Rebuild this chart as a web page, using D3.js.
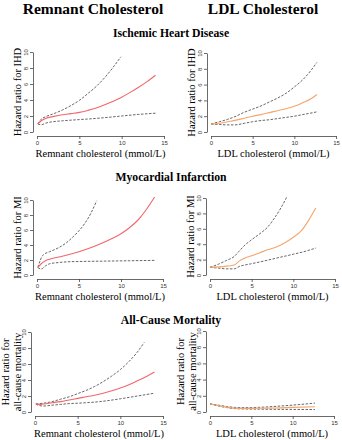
<html>
<head>
<style>
body {
  margin: 0;
  background-color: white;
}
.axis path, .axis line {
  stroke: #444;
  stroke-width: 0.8;
}
.axis text {
  fill: #333;
  font-family: "Liberation Sans", sans-serif;
  font-size: 6px;
}
.label {
  font-family: "Liberation Serif", serif;
  fill: black;
}
</style>
<script src="https://d3js.org/d3.v7.min.js"></script>
</head>
<body>
<svg id="chart" width="342" height="440"></svg>
<script>

// tick values
var xTicks = [0, 5, 10, 15];
var yTicks = [0, 2, 4, 6, 8, 10];

// column and row titles
var columns = ["Remnant Cholesterol", "LDL Cholesterol"];
var rows = ["Ischemic Heart Disease", "Myocardial Infarction", "All-Cause Mortality"];

// Remnant cholesterol, IHD
var remIhdFit = [[0.1,1.0],[0.5,1.4],[1,1.7],[2,1.95],[3,2.15],[4,2.3],[5,2.45],[6,2.7],[7,3.0],[8,3.4],[9,3.85],[10,4.35],[11,4.95],[12,5.6],[13,6.3],[14,7.1]];
var remIhdUp = [[0.1,1.0],[0.5,1.6],[1,1.9],[2,2.3],[3,2.75],[4,3.3],[5,3.95],[6,4.8],[7,5.7],[8,6.8],[9,8.1],[9.9,9.4]];
var remIhdLo = [[0.1,1.0],[0.5,0.9],[1,1.1],[2,1.3],[3,1.4],[5,1.55],[7,1.7],[10,2.0],[12,2.2],[14,2.35]];

// LDL cholesterol, IHD
var ldlIhdFit = [[0,1.0],[1,1.1],[2,1.3],[3,1.5],[4,1.75],[5,2.0],[6,2.2],[7,2.45],[8,2.7],[9,2.95],[10,3.25],[11,3.7],[12,4.2],[12.7,4.75]];
var ldlIhdUp = [[0,1.0],[1,1.3],[2,1.6],[3,2.0],[4,2.5],[5,2.9],[6,3.3],[7,3.8],[8,4.3],[9,4.9],[10,5.7],[11,6.6],[12,7.8],[12.7,8.8]];
var ldlIhdLo = [[0,1.0],[1,0.95],[2,0.9],[2.8,0.9],[4,1.1],[5,1.3],[6,1.45],[7,1.55],[8,1.7],[9,1.85],[10,2.0],[11,2.2],[12,2.4],[12.7,2.55]];

// Remnant cholesterol, MI
var remMiFit = [[0.1,1.0],[0.5,1.5],[1,1.9],[1.5,2.1],[3,2.5],[5,3.1],[7,3.9],[9,4.9],[10,5.5],[11,6.3],[12,7.3],[13,8.7],[14,10.4]];
var remMiUp = [[0.1,1.0],[0.4,2.0],[0.75,2.7],[1.5,3.1],[2.5,3.6],[3.5,4.3],[4.3,5.1],[5,5.9],[5.7,6.9],[6.4,8.2],[7.1,9.9]];
var remMiLo = [[0.1,1.0],[0.5,0.8],[1,1.2],[1.5,1.5],[2.5,1.65],[3.5,1.75],[5,1.8],[8,1.85],[11,1.9],[14,1.95]];

// LDL cholesterol, MI
var ldlMiFit = [[0,1.0],[1,1.05],[2,1.15],[2.9,1.3],[3.5,1.8],[4.2,2.2],[5,2.5],[6,2.9],[7,3.3],[8.1,3.7],[9,4.2],[10,4.9],[11,5.8],[12,7.4],[12.7,8.7]];
var ldlMiUp = [[0,1.0],[1,1.4],[2,1.9],[2.9,2.4],[3.5,3.1],[4.2,3.9],[4.9,4.5],[5.9,5.3],[6.9,6.2],[7.8,7.5],[8.5,8.7],[9.2,10.1]];
var ldlMiLo = [[0,1.0],[1,0.9],[2,0.8],[2.9,0.8],[3.5,1.1],[4.9,1.45],[6,1.7],[8,2.2],[10,2.7],[11.5,3.1],[12.7,3.5]];

// Remnant cholesterol, all-cause mortality
var remAcmFit = [[0.1,1.0],[0.5,0.95],[1,1.0],[2,1.15],[3,1.3],[4,1.5],[5,1.7],[6,1.9],[7,2.1],[8,2.35],[9,2.65],[10,3.0],[11,3.4],[12,3.9],[13,4.4],[14,5.0]];
var remAcmUp = [[0.1,1.0],[1,1.1],[2,1.3],[3,1.6],[4,1.9],[5,2.3],[6,2.7],[7,3.2],[8,3.8],[9,4.5],[10,5.3],[11,6.3],[12,7.5],[12.8,8.7]];
var remAcmLo = [[0.1,1.0],[0.5,0.8],[1,0.75],[2,0.85],[3,0.95],[4,1.05],[5,1.1],[7.6,1.3],[10,1.65],[12,2.0],[14,2.35]];

// LDL cholesterol, all-cause mortality
var ldlAcmFit = [[0,1.0],[1,0.8],[2,0.6],[3,0.48],[4,0.45],[5,0.45],[6,0.47],[8,0.5],[10,0.57],[12.7,0.65]];
var ldlAcmUp = [[0,1.0],[1,0.85],[2,0.68],[3,0.57],[4,0.54],[5,0.55],[6,0.58],[8,0.7],[10,0.85],[12.7,1.1]];
var ldlAcmLo = [[0,1.0],[1,0.75],[2,0.55],[3,0.42],[4,0.38],[6,0.35],[8,0.33],[10,0.32],[12.7,0.3]];

var red = "#f2666a", orange = "#f5a46a";

var panels = [
  {x0:37, x1:164, y0:132, y1:52, xl:"Remnant cholesterol (mmol/L)", yl:["Hazard ratio for IHD"], fit:remIhdFit, up:remIhdUp, lo:remIhdLo, col:red},
  {x0:211, x1:336, y0:132, y1:53, xl:"LDL cholesterol (mmol/L)", yl:["Hazard ratio for IHD"], fit:ldlIhdFit, up:ldlIhdUp, lo:ldlIhdLo, col:orange},
  {x0:37, x1:163, y0:275, y1:200, xl:"Remnant cholesterol (mmol/L)", yl:["Hazard ratio for MI"], fit:remMiFit, up:remMiUp, lo:remMiLo, col:red},
  {x0:210, x1:335, y0:275, y1:198, xl:"LDL cholesterol (mmol/L)", yl:["Hazard ratio for MI"], fit:ldlMiFit, up:ldlMiUp, lo:ldlMiLo, col:orange},
  {x0:35, x1:163, y0:412, y1:332, xl:"Remnant cholesterol (mmol/L)", yl:["Hazard ratio for","all-cause mortality"], fit:remAcmFit, up:remAcmUp, lo:remAcmLo, col:red},
  {x0:210, x1:334, y0:412, y1:331, xl:"LDL cholesterol (mmol/L)", yl:["Hazard ratio for","all-cause mortality"], fit:ldlAcmFit, up:ldlAcmUp, lo:ldlAcmLo, col:orange}
];

var svg = d3.select("#chart");

// headers
svg.append("text").attr("class","label").attr("x",93).attr("y",14)
  .attr("text-anchor","middle").style("font-weight","bold").style("font-size","15.5px").text(columns[0]);
svg.append("text").attr("class","label").attr("x",263).attr("y",14)
  .attr("text-anchor","middle").style("font-weight","bold").style("font-size","15.5px").text(columns[1]);

var rowY = [37, 181, 324];
rows.forEach(function(r, i) {
  svg.append("text").attr("class","label").attr("x",171).attr("y",rowY[i])
    .attr("text-anchor","middle").style("font-weight","bold").style("font-size","11.7px").text(r);
});

panels.forEach(function(p) {
  var x = d3.scaleLinear().domain([0,15]).range([p.x0, p.x1]);
  var y = d3.scaleLinear().domain([0,10]).range([p.y0, p.y1]);

  var line = d3.line()
    .x(function(d) {return x(d[0]);})
    .y(function(d) {return y(d[1]);})
    .curve(d3.curveMonotoneX);

  svg.append("g").attr("class","axis")
    .attr("transform","translate(0," + (p.y0 + 4) + ")")
    .call(d3.axisBottom(x).tickValues(xTicks).tickSize(3).tickSizeOuter(0).tickPadding(2));

  var ya = svg.append("g").attr("class","axis")
    .attr("transform","translate(" + (p.x0 - 4) + ",0)")
    .call(d3.axisLeft(y).tickValues(yTicks).tickSize(3).tickSizeOuter(0));
  ya.selectAll(".tick text")
    .attr("x", null).attr("dy", null)
    .attr("text-anchor","middle")
    .attr("transform","translate(-5.5,0) rotate(-90)");

  // x label
  svg.append("text").attr("class","label")
    .attr("x", (p.x0 + p.x1) / 2).attr("y", p.y0 + 24.5)
    .attr("text-anchor","middle").style("font-size","10.5px").text(p.xl);

  // y label
  var cy = (p.y0 + p.y1) / 2;
  p.yl.forEach(function(t, i) {
    var px = p.yl.length == 1 ? p.x0 - 16 : p.x0 - 26 + i * 11.5;
    svg.append("text").attr("class","label")
      .attr("transform","translate(" + px + "," + cy + ") rotate(-90)")
      .attr("text-anchor","middle").style("font-size","10.5px").text(t);
  });

  svg.append("path").datum(p.up)
    .attr("fill","none").attr("stroke","#555").attr("stroke-width",0.9)
    .attr("stroke-dasharray","2.5,1.5").attr("d", line);
  svg.append("path").datum(p.lo)
    .attr("fill","none").attr("stroke","#555").attr("stroke-width",0.9)
    .attr("stroke-dasharray","2.5,1.5").attr("d", line);
  svg.append("path").datum(p.fit)
    .attr("fill","none").attr("stroke",p.col).attr("stroke-width",1.1).attr("d", line);
});

</script>
</body>
</html>
